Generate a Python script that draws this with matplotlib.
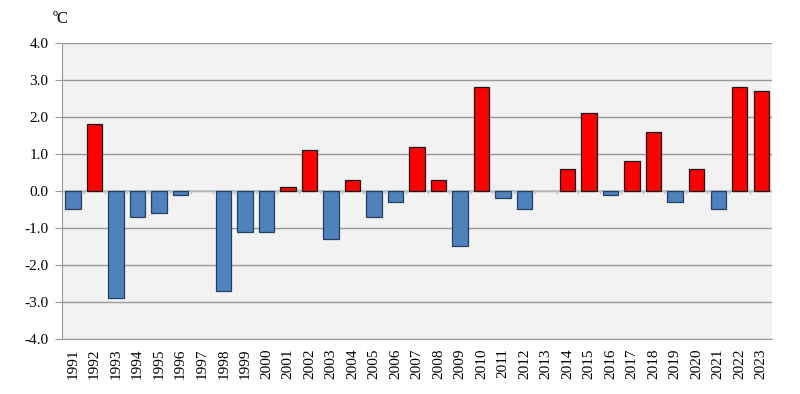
import numpy as np
import matplotlib.pyplot as plt

plt.rcParams['font.family'] = ['Liberation Serif', 'DejaVu Serif']

# yearly temperature anomaly, degrees C
years = [str(y) for y in range(1991, 2024)]
values = [-0.5, 1.8, -2.9, -0.7, -0.6, -0.1, 0.0, -2.7, -1.1, -1.1,
          0.1, 1.1, -1.3, 0.3, -0.7, -0.3, 1.2, 0.3, -1.5, 2.8,
          -0.2, -0.5, 0.0, 0.6, 2.1, -0.1, 0.8, 1.6, -0.3, 0.6,
          -0.5, 2.8, 2.7]
yticks = [-4.0, -3.0, -2.0, -1.0, 0.0, 1.0, 2.0, 3.0, 4.0]

x = np.arange(len(years))
vals = np.array(values)
colors = np.where(vals > 0, '#ff0000', '#4f81bd')
edges = np.where(vals > 0, '#1a1a1a', '#243f60')
lws = np.where(vals == 0, 0, 0.9)

fig = plt.figure(figsize=(8, 3.94), dpi=100)
ax = fig.add_axes([0.078, 0.14, 0.887, 0.751])
ax.set_facecolor('#f2f2f2')

ax.bar(x, vals, width=0.72, color=colors, edgecolor=edges, linewidth=lws, zorder=3)

ax.set_xlim(-0.5, len(years) - 0.5)
ax.set_ylim(-4, 4)
ax.set_yticks(yticks)
ax.set_yticklabels([f"{v:.1f}" for v in yticks], fontsize=11)
ax.grid(axis='y', color='#999999', linewidth=1, zorder=1)
ax.axhline(0, color='#c0c0c0', linewidth=1.2, zorder=2)

# tick marks between categories on the zero line
ax.vlines(np.arange(len(years) + 1) - 0.5, -0.08, 0, color='#c0c0c0', linewidth=1, zorder=2)

ax.set_xticks(x)
ax.set_xticklabels(years, rotation=90, fontsize=11)
ax.tick_params(axis='x', length=0, pad=7)
ax.tick_params(axis='y', length=5, color='#999999', pad=5)

for s in ['top', 'right']:
    ax.spines[s].set_visible(False)
ax.spines['left'].set_color('#999999')
ax.spines['bottom'].set_color('#999999')

fig.text(0.066, 0.952, 'ºC', fontsize=12, ha='left', va='center')

fig.savefig('out.png', dpi=100)
